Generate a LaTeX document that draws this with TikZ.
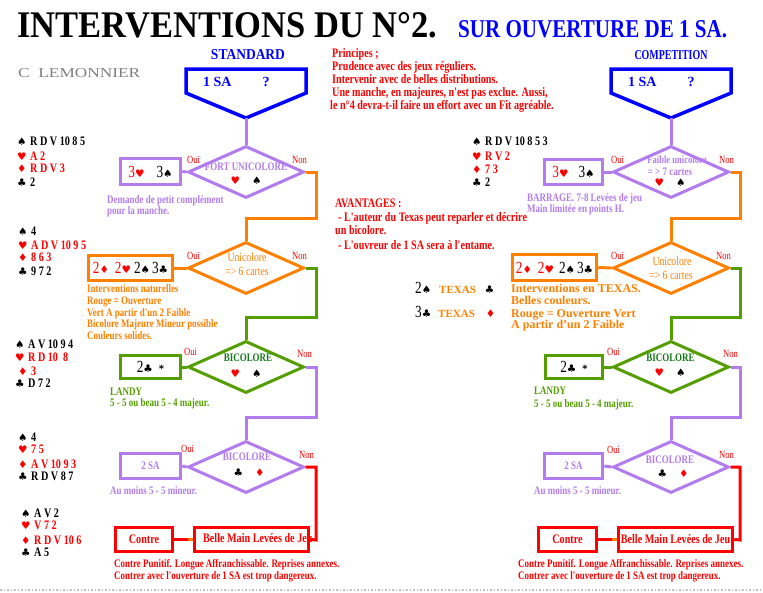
\documentclass[tikz,border=0pt]{standalone}
\usepackage{fontspec}
\setmainfont{Liberation Serif}
\newfontfamily\cf[FakeStretch=0.78]{Liberation Serif}
\newfontfamily\sy{DejaVu Sans}
\usetikzlibrary{shapes.geometric}
\definecolor{lav}{RGB}{178,124,238}
\definecolor{org}{RGB}{255,128,0}
\definecolor{grn}{RGB}{84,158,0}
\definecolor{dgrn}{RGB}{20,120,20}
\definecolor{blu}{RGB}{0,0,255}
\definecolor{rd}{RGB}{255,0,0}
\definecolor{gry}{RGB}{128,128,128}
\newcommand\mySp{{\sy\fontsize{10.5}{11}\selectfont\color{black}♠}}
\newcommand\myHe{{\sy\fontsize{10.5}{11}\selectfont\color{rd}♥}}
\newcommand\myDi{{\sy\fontsize{10.5}{11}\selectfont\color{rd}♦}}
\newcommand\myCl{{\sy\fontsize{10.5}{11}\selectfont\color{black}♣}}
\newcommand\bignum[1]{{\cf\fontsize{17}{17}\selectfont #1}}
\newcommand\su[1]{\makebox[13pt][l]{#1}}
\begin{document}
\begin{tikzpicture}[x=1pt,y=-1pt,
  t/.style={inner sep=0,anchor=mid west},
  tc/.style={inner sep=0,anchor=mid},
  sm/.style={font=\cf\bfseries\fontsize{11.5}{13}\selectfont},
  md/.style={font=\cf\bfseries\fontsize{13}{14}\selectfont},
  dtx/.style={tc,font=\cf\fontsize{12.5}{13}\selectfont},
  dcap/.style={tc,font=\cf\bfseries\fontsize{11.5}{13}\selectfont},
  on/.style={t,font=\cf\fontsize{11}{12}\selectfont,text=rd},
  hand/.style={t,font=\cf\bfseries\fontsize{13}{14}\selectfont},
  bx/.style={draw=#1,line width=3.5pt,inner sep=0,rectangle},
  dm/.style={draw=#1,line width=3pt,diamond,inner sep=0,minimum width=116pt,minimum height=52pt},
  ln/.style={draw=#1,line width=3pt},
  pent/.style={draw=blu,line width=3.5pt,line join=miter}]
\useasboundingbox (0,0) rectangle (763,592);
\fill[white] (0,0) rectangle (763,592);

% titles
\node[inner sep=0,anchor=south west] (title) at (17,38) {\resizebox{420pt}{25pt}{\bfseries INTERVENTIONS DU N°2.}};
\node[inner sep=0,anchor=south west,text=blu] (subtitle) at (458,38) {\resizebox{269pt}{17pt}{\bfseries SUR OUVERTURE DE 1 SA.}};
\node[tc,text=blu] (std) at (248,57) {\resizebox{74pt}{10pt}{\bfseries STANDARD}};
\node[tc,text=blu] (cmp) at (671,57) {\resizebox{73pt}{9pt}{\bfseries COMPETITION}};
\node[inner sep=0,anchor=north west,text=gry] (auth) at (18,68) {\resizebox{122pt}{9pt}{C\ \ LEMONNIER}};

% principes
\node[t,md,text=rd] (pr1) at (332,55) {Principes ;};
\node[t,md,text=rd] (pr2) at (332,68) {Prudence avec des jeux réguliers.};
\node[t,md,text=rd] (pr3) at (332,81) {Intervenir avec de belles distributions.};
\node[t,md,text=rd] (pr4) at (332,94) {Une manche, en majeures, n'est pas exclue. Aussi,};
\node[t,md,text=rd] (pr5) at (330,107) {le n°4 devra-t-il faire un effort avec un Fit agréable.};

% pentagons
\draw[pent] (186,93) -- (186,69) -- (306,69) -- (306,93) -- (246,118) -- cycle;
\coordinate (lp) at (246,118);
\node[t,text=blu,font=\bfseries\fontsize{14}{14}\selectfont] (lpt) at (203,84) {1 SA\hspace{31pt}?};
\draw[pent] (611,93) -- (611,69) -- (731,69) -- (731,93) -- (671,118) -- cycle;
\coordinate (rp) at (671,118);
\node[t,text=blu,font=\bfseries\fontsize{14}{14}\selectfont] (rpt) at (628,84) {1 SA\hspace{31pt}?};

% ===== LEFT COLUMN =====
% hands
\node[hand] (h1a) at (17,143) {\su{\mySp}R D V 10 8 5};
\node[hand,text=rd] (h1b) at (17,158) {\su{\myHe}A 2};
\node[hand,text=rd] (h1c) at (17,170) {\su{\myDi}R D V 3};
\node[hand] (h1d) at (17,184) {\su{\myCl}2};
\node[hand] (h2a) at (18,233) {\su{\mySp}4};
\node[hand,text=rd] (h2b) at (18,247) {\su{\myHe}A D V 10 9 5};
\node[hand,text=rd] (h2c) at (18,259) {\su{\myDi}8 6 3};
\node[hand] (h2d) at (18,273) {\su{\myCl}9 7 2};
\node[hand] (h3a) at (15,346) {\su{\mySp}A V 10 9 4};
\node[hand,text=rd] (h3b) at (15,359) {\su{\myHe}R D 10 \ 8};
\node[hand,text=rd] (h3c) at (18,373) {\su{\myDi}3};
\node[hand] (h3d) at (15,385) {\su{\myCl}D 7 2};
\node[hand] (h4a) at (18,439) {\su{\mySp}4};
\node[hand,text=rd] (h4b) at (18,451) {\su{\myHe}7 5};
\node[hand,text=rd] (h4c) at (18,466) {\su{\myDi}A V 10 9 3};
\node[hand] (h4d) at (18,478) {\su{\myCl}R D V 8 7};
\node[hand] (h5a) at (21,515) {\su{\mySp}A V 2};
\node[hand,text=rd] (h5b) at (21,527) {\su{\myHe}V 7 2};
\node[hand,text=rd] (h5c) at (21,542) {\su{\myDi}R D V 10 6};
\node[hand] (h5d) at (21,554) {\su{\myCl}A 5};

% diamonds
\node[dm=lav] (ld1) at (246,172) {};
\node[dm=org] (ld2) at (246,268) {};
\node[dm=grn] (ld3) at (246,367) {};
\node[dm=lav] (ld4) at (246,467) {};
\node[dcap,text=lav] (ld1t) at (246,168) {FORT UNICOLORE};
\node[tc] (ld1s) at (246,182) {\myHe\hspace{12pt}\mySp};
\node[dtx,text=org] (ld2t) at (247,259) {Unicolore};
\node[dtx,text=org] (ld2u) at (247,273) {=> 6 cartes};
\node[dcap,text=dgrn] (ld3t) at (248,359) {BICOLORE};
\node[tc] (ld3s) at (246,375) {\myHe\hspace{12pt}\mySp};
\node[dcap,text=lav] (ld4t) at (247,458) {BICOLORE};
\node[tc] (ld4s) at (249,474) {\myCl\hspace{12pt}\myDi};

% Oui / Non
\node[on] (lo1) at (187,161) {Oui};
\node[on] (ln1) at (292,161) {Non};
\node[on] (lo2) at (187,257) {Oui};
\node[on] (ln2) at (292,257) {Non};
\node[on] (lo3) at (184,353) {Oui};
\node[on] (ln3) at (297,355) {Non};
\node[on] (lo4) at (181,450) {Oui};
\node[on] (ln4) at (299,456) {Non};

% boxes
\node[bx=lav,minimum width=60pt,minimum height=26pt] (lb1) at (150.5,171.5) {\bignum{\color{rd}3}\myHe\hspace{12pt}\bignum{3}\mySp};
\node[bx=org,minimum width=84pt,minimum height=25pt] (lb2) at (130.5,268) {\bignum{\color{rd}2}\myDi\hspace{6pt}\bignum{\color{rd}2}\myHe\hspace{3pt}\bignum{2}\mySp\hspace{2pt}\bignum{3}\myCl};
\node[bx=grn,minimum width=60pt,minimum height=23pt] (lb3) at (150.5,367) {\bignum{2}\myCl\hspace{6pt}{\sy\bfseries\fontsize{10}{10}\selectfont *}};
\node[bx=lav,minimum width=60pt,minimum height=25pt,text=lav,font=\cf\bfseries\fontsize{11.5}{12}\selectfont] (lb4) at (150.5,466) {2 SA\hspace{6pt}};
\node[bx=rd,minimum width=57pt,minimum height=24pt,text=rd,font=\cf\bfseries\fontsize{13}{13}\selectfont] (lc) at (144,539.5) {Contre};
\node[t,text=rd,font=\cf\bfseries\fontsize{13}{13}\selectfont] (lbmt) at (203,540) {Belle Main Levées de Jeu};
\node[bx=rd,minimum width=114pt,minimum height=24pt] (lbm) at (251.5,539.5) {};

% notes
\node[t,sm,text=lav] (ln1a) at (107,201) {Demande de petit complément};
\node[t,sm,text=lav] (ln1b) at (107,212) {pour la manche.};
\node[t,sm,text=org] (ln2a) at (87,290) {Interventions naturelles};
\node[t,sm,text=org] (ln2b) at (87,302) {Rouge = Ouverture};
\node[t,sm,text=org] (ln2c) at (87,314) {Vert A partir d'un 2 Faible};
\node[t,sm,text=org] (ln2d) at (87,325) {Bicolore Majeure Mineur possible};
\node[t,sm,text=org] (ln2e) at (87,337) {Couleurs solides.};
\node[t,sm,text=grn] (ln3a) at (110,393) {LANDY};
\node[t,sm,text=grn] (ln3b) at (110,404) {5 - 5 ou beau 5 - 4 majeur.};
\node[t,sm,text=lav] (ln4a) at (110,492) {Au moins 5 - 5 mineur.};
\node[t,sm,text=rd] (ln5a) at (114,565) {Contre Punitif. Longue Affranchissable. Reprises annexes.};
\node[t,sm,text=rd] (ln5b) at (114,577) {Contrer avec l'ouverture de 1 SA est trop dangereux.};

% connectors left
\coordinate (lj1) at (316,218);
\coordinate (lj2) at (316,317);
\coordinate (lj3) at (316,417);
\coordinate (lj4) at (316,540);
\draw[ln=lav] (lp) -- (ld1.north);
\draw[ln=lav] (lb1.east) -- (ld1.west);
\draw[ln=org] (ld1.east) -| (lj1) -| (ld2.north);
\draw[ln=org] (lb2.east) -- (ld2.west);
\draw[ln=grn] (ld2.east) -| (lj2) -| (ld3.north);
\draw[ln=grn] (lb3.east) -- (ld3.west);
\draw[ln=lav] (ld3.east) -| (lj3) -| (ld4.north);
\draw[ln=lav] (lb4.east) -- (ld4.west);
\draw[ln=rd] (ld4.east) -| (lj4) -- (lbm.east);
\draw[ln=rd] (lc.east) -- (lbm.west);
\draw[ln=org,shorten <=14pt] (lc.east) -- (lbm.west);

% ===== MIDDLE =====
\node[t,md,text=rd] (av1) at (335,205) {AVANTAGES :};
\node[t,md,text=rd] (av2) at (338,219) {- L'auteur du Texas peut reparler et décrire};
\node[t,md,text=rd] (av3) at (335,232.5) {un bicolore.};
\node[t,md,text=rd] (av4) at (338,247) {- L'ouvreur de 1 SA sera à l'entame.};
\node[t] (tx1) at (415,291) {\bignum{2}\mySp\hspace{8pt}{\color{org}\bfseries\fontsize{11}{12}\selectfont TEXAS}\hspace{9pt}\myCl};
\node[t] (tx2) at (415,315) {\bignum{3}\myCl\hspace{7pt}{\color{org}\bfseries\fontsize{11}{12}\selectfont TEXAS}\hspace{11pt}\myDi};

% ===== RIGHT COLUMN =====
\node[hand] (r1a) at (472,143) {\su{\mySp}R D V 10 8 5 3};
\node[hand,text=rd] (r1b) at (472,158) {\su{\myHe}R V 2};
\node[hand,text=rd] (r1c) at (472,171) {\su{\myDi}7 3};
\node[hand] (r1d) at (472,184) {\su{\myCl}2};

\node[dm=lav] (rd1) at (671,172) {};
\node[dm=org] (rd2) at (671,268) {};
\node[dm=grn] (rd3) at (671,367) {};
\node[dm=lav] (rd4) at (671,467) {};
\node[dtx,text=lav,font=\cf\bfseries\fontsize{11}{12}\selectfont] (rd1t) at (677,161) {Faible unicolore};
\node[dtx,text=lav,font=\cf\bfseries\fontsize{11.5}{12}\selectfont] (rd1u) at (670,173) {= > 7 cartes};
\node[tc] (rd1s) at (670,184) {\myHe\hspace{12pt}\mySp};
\node[dtx,text=org] (rd2t) at (672,263) {Unicolore};
\node[dtx,text=org] (rd2u) at (671,277) {=> 6 cartes};
\node[dcap,text=dgrn] (rd3t) at (670.5,359) {BICOLORE};
\node[tc] (rd3s) at (670,374) {\myHe\hspace{12pt}\mySp};
\node[dcap,text=lav] (rd4t) at (670,461) {BICOLORE};
\node[tc] (rd4s) at (673,475) {\myCl\hspace{12pt}\myDi};

\node[on] (ro1) at (611,161) {Oui};
\node[on] (rn1) at (719,161) {Non};
\node[on] (ro2) at (611,257) {Oui};
\node[on] (rn2) at (716,257) {Non};
\node[on] (ro3) at (607,353) {Oui};
\node[on] (rn3) at (723,355) {Non};
\node[on] (ro4) at (607,451) {Oui};
\node[on] (rn4) at (719,456) {Non};

\node[bx=lav,minimum width=58pt,minimum height=25pt] (rb1) at (573.5,172) {\bignum{\color{rd}3}\myHe\hspace{10pt}\bignum{3}\mySp};
\node[bx=org,minimum width=84pt,minimum height=26pt] (rb2) at (554.5,267.5) {\bignum{\color{rd}2}\myDi\hspace{6pt}\bignum{\color{rd}2}\myHe\hspace{5pt}\bignum{2}\mySp\hspace{2pt}\bignum{3}\myCl};
\node[bx=grn,minimum width=57pt,minimum height=23pt] (rb3) at (574,367) {\bignum{2}\myCl\hspace{6pt}{\sy\bfseries\fontsize{10}{10}\selectfont *}};
\node[bx=lav,minimum width=58pt,minimum height=25pt,text=lav,font=\cf\bfseries\fontsize{11.5}{12}\selectfont] (rb4) at (573.5,466) {2 SA\hspace{12pt}};
\node[bx=rd,minimum width=58pt,minimum height=24pt,text=rd,font=\cf\bfseries\fontsize{13}{13}\selectfont] (rc) at (567.5,539.5) {Contre};
\node[bx=rd,minimum width=114pt,minimum height=24pt,text=rd,font=\cf\bfseries\fontsize{13}{13}\selectfont] (rbm) at (675.5,539.5) {Belle Main Levées de Jeu};

\node[t,sm,text=lav] (rn1a) at (527,199) {BARRAGE. 7-8 Levées de jeu};
\node[t,sm,text=lav] (rn1b) at (527,210) {Main limitée en points H.};
\node[t,text=org,font=\bfseries\fontsize{12}{13}\selectfont] (rn2a) at (511,290) {Interventions en TEXAS.};
\node[t,text=org,font=\bfseries\fontsize{12}{13}\selectfont] (rn2b) at (511,302) {Belles couleurs.};
\node[t,text=org,font=\bfseries\fontsize{12}{13}\selectfont] (rn2c) at (511,315) {Rouge = Ouverture Vert};
\node[t,text=org,font=\bfseries\fontsize{12}{13}\selectfont] (rn2d) at (511,326) {A partir d'un 2 Faible};
\node[t,sm,text=grn] (rn3a) at (534,392) {LANDY};
\node[t,sm,text=grn] (rn3b) at (534,405) {5 - 5 ou beau 5 - 4 majeur.};
\node[t,sm,text=lav] (rn4a) at (534,492) {Au moins 5 - 5 mineur.};
\node[t,sm,text=rd] (rn5a) at (518,565) {Contre Punitif. Longue Affranchissable. Reprises annexes.};
\node[t,sm,text=rd] (rn5b) at (518,577) {Contrer avec l'ouverture de 1 SA est trop dangereux.};

\coordinate (rj1) at (740,218);
\coordinate (rj2) at (740,317);
\coordinate (rj3) at (740,417);
\coordinate (rj4) at (740,540);
\draw[ln=lav] (rp) -- (rd1.north);
\draw[ln=lav] (rb1.east) -- (rd1.west);
\draw[ln=org] (rd1.east) -| (rj1) -| (rd2.north);
\draw[ln=org] (rb2.east) -- (rd2.west);
\draw[ln=grn] (rd2.east) -| (rj2) -| (rd3.north);
\draw[ln=grn] (rb3.east) -- (rd3.west);
\draw[ln=lav] (rd3.east) -| (rj3) -| (rd4.north);
\draw[ln=lav] (rb4.east) -- (rd4.west);
\draw[ln=rd] (rd4.east) -| (rj4) -- (rbm.east);
\draw[ln=rd] (rc.east) -- (rbm.west);
\draw[ln=org,shorten <=14pt] (rc.east) -- (rbm.west);

% bottom rule
\coordinate (bl) at (0,590);
\coordinate (br) at (763,590);
\draw[gry!50,dotted,line width=1.5pt] (bl) -- (br);
\end{tikzpicture}
\end{document}
